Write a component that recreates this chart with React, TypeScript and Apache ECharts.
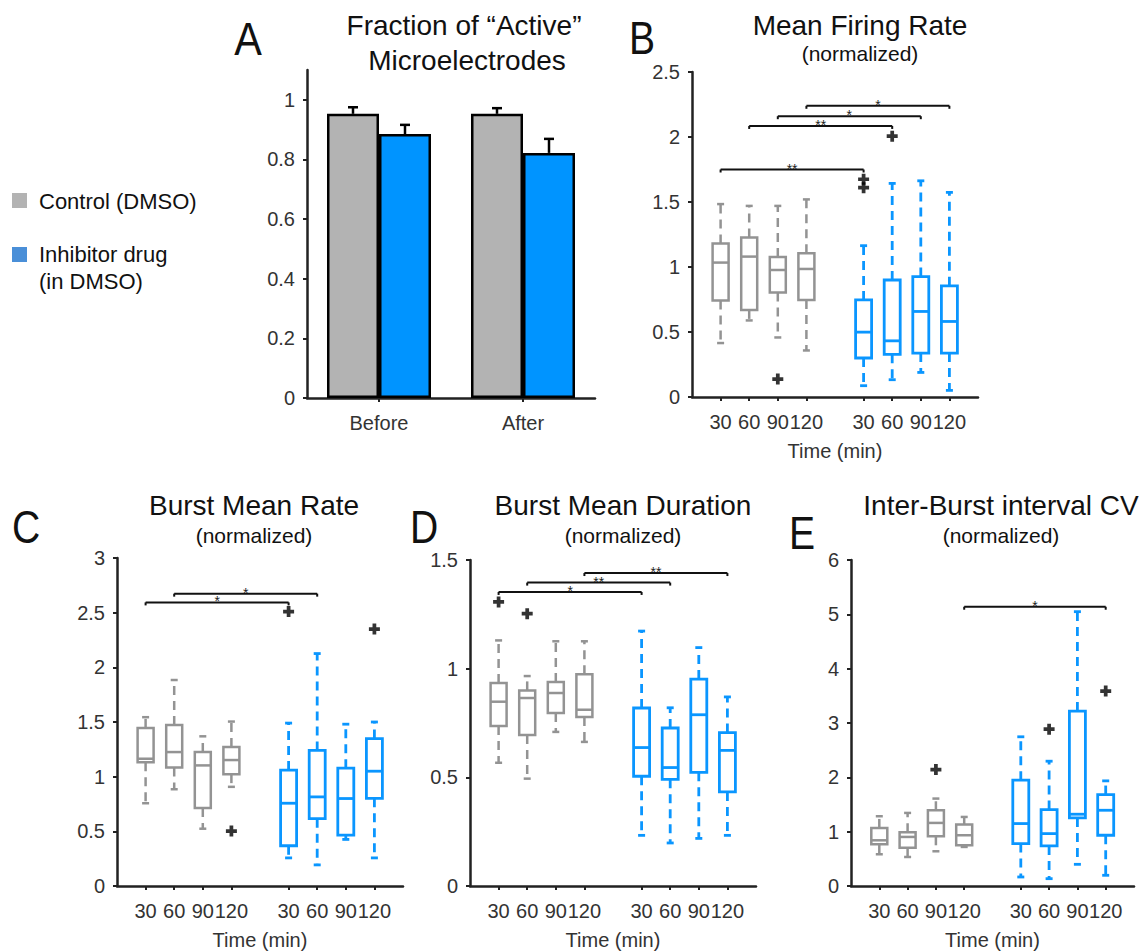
import React, { useEffect, useRef } from 'react';
import * as echarts from 'echarts';

const FONT = '"Liberation Sans", Arial, Helvetica, sans-serif';
const GRAY = '#939393';
const BLUE = '#0a96ff';
const BAR_GRAY = '#b3b3b3';
const BAR_BLUE = '#0094ff';
const AXIS = '#222222';

// Panel A: fraction of active microelectrodes
const activeCategories = ['Before', 'After'];
const activeControl = [0.953, 0.953];
const activeControlErr = [0.022, 0.019];
const activeInhibitor = [0.885, 0.822];
const activeInhibitorErr = [0.031, 0.047];
const activeTicks = [0, 0.2, 0.4, 0.6, 0.8, 1];

// Box positions and tick labels shared by B–E
const boxPositions = [1, 2, 3, 4, 6, 7, 8, 9];
const timeLabels = ['30', '60', '90', '120', '30', '60', '90', '120'];

// Each box: [lower whisker, Q1, median, Q3, upper whisker]
const firingControl = [
  [0.415, 0.742, 1.034, 1.18, 1.484],
  [0.589, 0.67, 1.08, 1.226, 1.47],
  [0.458, 0.803, 0.977, 1.077, 1.47],
  [0.358, 0.747, 0.985, 1.105, 1.52],
];
const firingInhibitor = [
  [0.087, 0.3, 0.499, 0.747, 1.164],
  [0.133, 0.328, 0.432, 0.9, 1.643],
  [0.189, 0.338, 0.658, 0.926, 1.663],
  [0.051, 0.338, 0.581, 0.855, 1.574],
];
const firingOutliers = [[3, 0.138], [6, 1.675], [6, 1.61], [7, 2.006]];
const firingSig = [[1, 6, 1.75], [2, 7, 2.085], [3, 8, 2.16], [4, 9, 2.24]];
const firingSigLabels = ['**', '**', '*', '*'];

const burstRateControl = [
  [0.757, 1.133, 1.164, 1.446, 1.544],
  [0.885, 1.084, 1.225, 1.473, 1.884],
  [0.524, 0.714, 1.103, 1.225, 1.369],
  [0.907, 1.023, 1.152, 1.271, 1.504],
];
const burstRateInhibitor = [
  [0.257, 0.368, 0.757, 1.06, 1.49],
  [0.193, 0.616, 0.815, 1.24, 2.126],
  [0.426, 0.466, 0.8, 1.078, 1.48],
  [0.257, 0.802, 1.05, 1.348, 1.5],
];
const burstRateOutliers = [[4, 0.502], [6, 2.51], [9, 2.35]];
const burstRateSig = [[1, 6, 2.594], [2, 7, 2.674]];
const burstRateSigLabels = ['*', '*'];

const burstDurControl = [
  [0.567, 0.736, 0.848, 0.934, 1.13],
  [0.494, 0.695, 0.865, 0.9, 0.966],
  [0.709, 0.796, 0.888, 0.939, 1.126],
  [0.663, 0.778, 0.811, 0.974, 1.126],
];
const burstDurInhibitor = [
  [0.233, 0.505, 0.637, 0.819, 1.173],
  [0.198, 0.491, 0.545, 0.727, 0.82],
  [0.219, 0.523, 0.788, 0.952, 1.097],
  [0.233, 0.433, 0.624, 0.706, 0.87],
];
const burstDurOutliers = [[1, 1.307], [2, 1.253]];
const burstDurSig = [[1, 6, 1.353], [2, 7, 1.396], [4, 9, 1.44]];
const burstDurSigLabels = ['*', '**', '**'];

const ibiControl = [
  [0.584, 0.768, 0.841, 1.069, 1.284],
  [0.534, 0.706, 0.903, 0.989, 1.345],
  [0.639, 0.915, 1.161, 1.394, 1.609],
  [0.719, 0.749, 0.934, 1.13, 1.271],
];
const ibiInhibitor = [
  [0.166, 0.78, 1.149, 1.947, 2.746],
  [0.135, 0.737, 0.964, 1.407, 2.297],
  [0.399, 1.253, 1.321, 3.219, 5.049],
  [0.197, 0.934, 1.394, 1.683, 1.935],
];
const ibiOutliers = [[3, 2.144], [7, 2.887], [9, 3.587]];
const ibiSig = [[4, 9, 5.14]];
const ibiSigLabels = ['*'];

const PLUS = 'path://M3.3,0H6.7V3.3H10V6.7H6.7V10H3.3V6.7H0V3.3H3.3Z';

function buildBoxData(ctrl: number[][], inh: number[][]) {
  return boxPositions.map((p, i) => {
    const v = i < 4 ? ctrl[i] : inh[i - 4];
    return [p, v[0], v[1], v[2], v[3], v[4], i < 4 ? 0 : 1];
  });
}

function renderBox(params: any, api: any) {
  const p = api.value(0);
  const lo = api.value(1), q1 = api.value(2), med = api.value(3), q3 = api.value(4), hi = api.value(5);
  const color = api.value(6) ? BLUE : GRAY;
  const x = api.coord([p, 0])[0];
  const Y = (v: number) => api.coord([p, v])[1];
  const hw = 8;
  const cw = 3.5;
  const lw = api.value(6) ? 2.8 : 2.5;
  const solid = { stroke: color, lineWidth: lw, fill: null };
  const dash = { stroke: color, lineWidth: lw, lineDash: [9, 6], fill: null };
  return {
    type: 'group',
    children: [
      { type: 'line', shape: { x1: x, y1: Y(q3), x2: x, y2: Y(hi) }, style: dash },
      { type: 'line', shape: { x1: x, y1: Y(q1), x2: x, y2: Y(lo) }, style: dash },
      { type: 'line', shape: { x1: x - cw, y1: Y(hi), x2: x + cw, y2: Y(hi) }, style: solid },
      { type: 'line', shape: { x1: x - cw, y1: Y(lo), x2: x + cw, y2: Y(lo) }, style: solid },
      { type: 'rect', shape: { x: x - hw, y: Y(q3), width: 2 * hw, height: Y(q1) - Y(q3) }, style: { stroke: color, lineWidth: lw, fill: 'rgba(255,255,255,0)' } },
      { type: 'line', shape: { x1: x - hw, y1: Y(med), x2: x + hw, y2: Y(med) }, style: solid },
    ],
  };
}

function makeSigRenderer(labels: string[]) {
  return (params: any, api: any) => {
    const a = api.coord([api.value(0), api.value(2)]);
    const b = api.coord([api.value(1), api.value(2)]);
    const st = { stroke: '#111', lineWidth: 2, fill: null };
    return {
      type: 'group',
      children: [
        { type: 'line', shape: { x1: a[0], y1: a[1], x2: b[0], y2: b[1] }, style: st },
        { type: 'line', shape: { x1: a[0], y1: a[1], x2: a[0], y2: a[1] + 3 }, style: st },
        { type: 'line', shape: { x1: b[0], y1: b[1], x2: b[0], y2: b[1] + 3 }, style: st },
        {
          type: 'text',
          x: (a[0] + b[0]) / 2,
          y: a[1] - 1,
          style: { text: labels[params.dataIndex], fontSize: 14, fontFamily: FONT, fill: '#222', align: 'center', verticalAlign: 'middle' },
        },
      ],
    };
  };
}

function renderErrorBar(params: any, api: any) {
  const base = api.coord([api.value(0), api.value(1)]);
  const top = api.coord([api.value(0), api.value(2)]);
  const off = api.value(3) ? 26 : -26;
  const x = base[0] + off;
  const st = { stroke: '#000', lineWidth: 2.5, fill: null };
  return {
    type: 'group',
    children: [
      { type: 'line', shape: { x1: x, y1: base[1], x2: x, y2: top[1] }, style: st },
      { type: 'line', shape: { x1: x - 5, y1: top[1], x2: x + 5, y2: top[1] }, style: st },
    ],
  };
}

const axisLine = { show: true, onZero: false, lineStyle: { color: AXIS, width: 2.5 } };
const axisTickStyle = { color: AXIS, width: 2 };
const labelStyle = { fontSize: 20, color: '#333', fontFamily: FONT };

function boxXAxis(gridIndex: number) {
  return {
    type: 'value',
    gridIndex,
    min: 0,
    max: 10,
    axisLine,
    axisTick: { show: true, customValues: boxPositions, length: 4, lineStyle: axisTickStyle },
    axisLabel: {
      ...labelStyle,
      customValues: boxPositions,
      margin: 15,
      hideOverlap: false,
      showMinLabel: true,
      showMaxLabel: true,
      formatter: (v: number) => {
        const i = boxPositions.indexOf(v);
        return i >= 0 ? timeLabels[i] : '';
      },
    },
    splitLine: { show: false },
    name: 'Time (min)',
    nameLocation: 'middle',
    nameGap: 44,
    nameTextStyle: { fontSize: 20, color: '#333', fontFamily: FONT },
  };
}

function yAx(gridIndex: number, max: number, interval: number) {
  return {
    type: 'value',
    gridIndex,
    min: 0,
    max,
    interval,
    axisLine,
    axisTick: { show: true, length: 4, lineStyle: axisTickStyle },
    axisLabel: { ...labelStyle, margin: 12, showMinLabel: true, showMaxLabel: true },
    splitLine: { show: false },
  };
}

function boxSeries(axisIndex: number, ctrl: number[][], inh: number[][], outliers: number[][], sig: number[][], sigLabels: string[]) {
  return [
    {
      type: 'custom',
      xAxisIndex: axisIndex,
      yAxisIndex: axisIndex,
      renderItem: renderBox,
      data: buildBoxData(ctrl, inh),
      z: 3,
      silent: true,
    },
    {
      type: 'scatter',
      xAxisIndex: axisIndex,
      yAxisIndex: axisIndex,
      symbol: PLUS,
      symbolSize: 11,
      itemStyle: { color: '#000' },
      data: outliers,
      z: 4,
      silent: true,
    },
    {
      type: 'custom',
      xAxisIndex: axisIndex,
      yAxisIndex: axisIndex,
      renderItem: makeSigRenderer(sigLabels),
      data: sig,
      z: 5,
      silent: true,
    },
  ];
}

function txt(text: string, x: number, y: number, fontSize: number, extra: any = {}) {
  return {
    type: 'text',
    x,
    y,
    ...extra,
    style: { text, fontSize, fontFamily: FONT, fill: '#111', align: 'center', verticalAlign: 'middle', ...(extra.style || {}) },
  };
}

export default function App() {
  const ref = useRef<HTMLDivElement>(null);

  useEffect(() => {
    if (!ref.current) return;
    const chart = echarts.init(ref.current, undefined, { renderer: 'svg' });

    const gridBase = { containLabel: false, outerBoundsMode: 'none' };
    const option: any = {
      animation: false,
      backgroundColor: '#ffffff',
      textStyle: { fontFamily: FONT },
      grid: [
        { ...gridBase, left: 307, top: 70, width: 288, height: 328 },
        { ...gridBase, left: 692, top: 72, width: 286, height: 325 },
        { ...gridBase, left: 117, top: 558, width: 286, height: 328 },
        { ...gridBase, left: 470, top: 560, width: 286, height: 326 },
        { ...gridBase, left: 851, top: 560, width: 283, height: 326 },
      ],
      xAxis: [
        {
          type: 'category',
          gridIndex: 0,
          data: activeCategories,
          axisLine,
          axisTick: { show: true, alignWithLabel: true, length: 4, lineStyle: axisTickStyle },
          axisLabel: { ...labelStyle, margin: 15 },
        },
        boxXAxis(1),
        boxXAxis(2),
        boxXAxis(3),
        boxXAxis(4),
      ],
      yAxis: [
        {
          type: 'value',
          gridIndex: 0,
          min: 0,
          max: 1.1,
          axisLine,
          axisTick: { show: true, length: 4, customValues: activeTicks, lineStyle: axisTickStyle },
          axisLabel: { ...labelStyle, margin: 12, customValues: activeTicks },
          splitLine: { show: false },
        },
        yAx(1, 2.5, 0.5),
        yAx(2, 3, 0.5),
        yAx(3, 1.5, 0.5),
        yAx(4, 6, 1),
      ],
      series: [
        {
          name: 'Control (DMSO)',
          type: 'bar',
          xAxisIndex: 0,
          yAxisIndex: 0,
          data: activeControl,
          barWidth: 52,
          barGap: '0%',
          itemStyle: { color: BAR_GRAY, borderColor: '#000', borderWidth: 2.5 },
          silent: true,
        },
        {
          name: 'Inhibitor drug (in DMSO)',
          type: 'bar',
          xAxisIndex: 0,
          yAxisIndex: 0,
          data: activeInhibitor,
          barWidth: 52,
          barGap: '0%',
          itemStyle: { color: BAR_BLUE, borderColor: '#000', borderWidth: 2.5 },
          silent: true,
        },
        {
          type: 'custom',
          xAxisIndex: 0,
          yAxisIndex: 0,
          renderItem: renderErrorBar,
          data: [
            ...activeCategories.map((c, i) => [i, activeControl[i], activeControl[i] + activeControlErr[i], 0]),
            ...activeCategories.map((c, i) => [i, activeInhibitor[i], activeInhibitor[i] + activeInhibitorErr[i], 1]),
          ],
          z: 4,
          silent: true,
        },
        ...boxSeries(1, firingControl, firingInhibitor, firingOutliers, firingSig, firingSigLabels),
        ...boxSeries(2, burstRateControl, burstRateInhibitor, burstRateOutliers, burstRateSig, burstRateSigLabels),
        ...boxSeries(3, burstDurControl, burstDurInhibitor, burstDurOutliers, burstDurSig, burstDurSigLabels),
        ...boxSeries(4, ibiControl, ibiInhibitor, ibiOutliers, ibiSig, ibiSigLabels),
      ],
      graphic: [
        // panel letters
        txt('A', 248, 39, 46, { scaleX: 0.9 }),
        txt('B', 642, 38, 46, { scaleX: 0.85 }),
        txt('C', 26, 527, 46, { scaleX: 0.85 }),
        txt('D', 424, 527, 46, { scaleX: 0.85 }),
        txt('E', 802, 533, 46, { scaleX: 0.85 }),
        // titles
        txt('Fraction of \u201CActive\u201D', 464, 25, 28),
        txt('Microelectrodes', 467, 60, 28),
        txt('Mean Firing Rate', 860, 25, 28),
        txt('(normalized)', 860, 53, 21),
        txt('Burst Mean Rate', 254, 505, 28),
        txt('(normalized)', 254, 535, 21),
        txt('Burst Mean Duration', 623, 505, 28),
        txt('(normalized)', 623, 535, 21),
        txt('Inter-Burst interval CV', 1001, 505, 28),
        txt('(normalized)', 1001, 535, 21),
        // legend
        { type: 'rect', shape: { x: 12, y: 193, width: 15, height: 15 }, style: { fill: BAR_GRAY } },
        { type: 'rect', shape: { x: 12, y: 247, width: 15, height: 15 }, style: { fill: '#4a8fd8' } },
        txt('Control (DMSO)', 39, 201, 22, { style: { align: 'left' } }),
        txt('Inhibitor drug', 39, 254, 22, { style: { align: 'left' } }),
        txt('(in DMSO)', 39, 281, 22, { style: { align: 'left' } }),
      ],
    };

    chart.setOption(option);
    return () => chart.dispose();
  }, []);

  return (
    <div
      ref={ref}
      style={{ position: 'fixed', left: 0, top: 0, width: 1145, height: 952, background: '#fff' }}
    />
  );
}
